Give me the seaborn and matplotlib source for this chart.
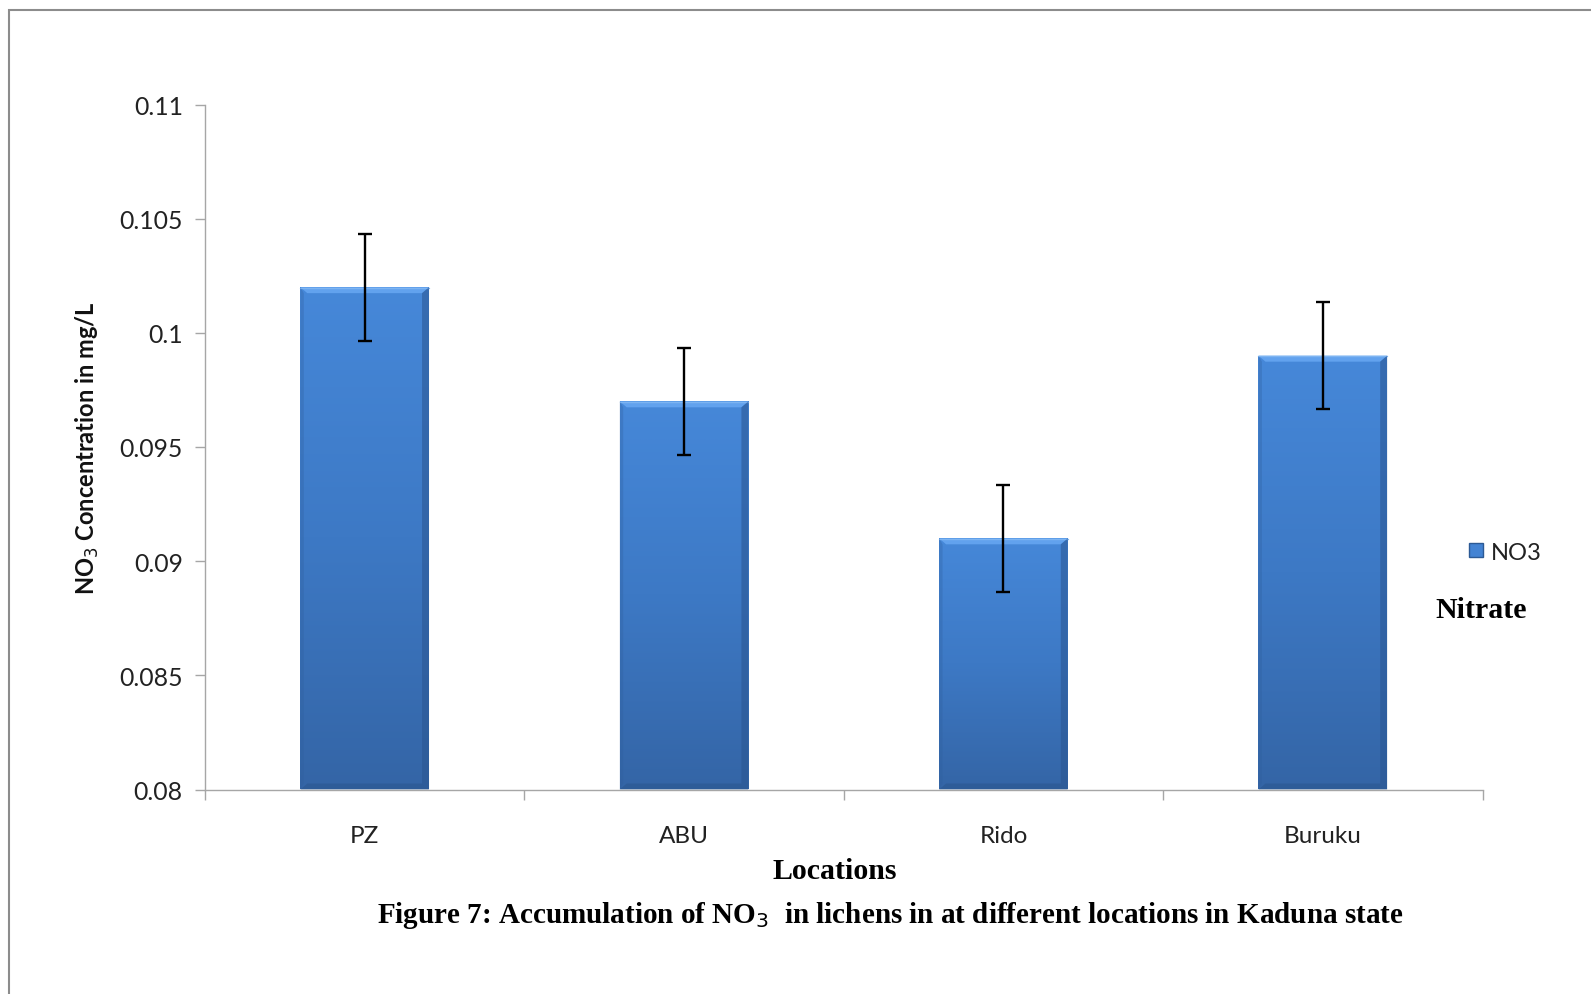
import numpy as np
import pandas as pd
import matplotlib
matplotlib.use("Agg")
import matplotlib.pyplot as plt
import seaborn as sns
from matplotlib.patches import Rectangle
from matplotlib.lines import Line2D
from matplotlib.colors import LinearSegmentedColormap

# ---- data ----
locations = ["PZ", "ABU", "Rido", "Buruku"]
no3_values = [0.102, 0.097, 0.091, 0.099]
no3_errors = [0.00235, 0.00235, 0.00235, 0.00235]
y_ticks = [0.08, 0.085, 0.09, 0.095, 0.1, 0.105, 0.11]
y_tick_labels = ["0.08", "0.085", "0.09", "0.095", "0.1", "0.105", "0.11"]
series_name = "NO3"

sns.set_theme(style="white")
plt.rcParams["font.family"] = ["Lato", "DejaVu Sans"]

W, H = 1591, 995
fig = plt.figure(figsize=(W / 100, H / 100), dpi=100)
ax = fig.add_axes([205 / W, 1 - 790.5 / H, (1482.5 - 205) / W, (790.5 - 105.5) / H])

YMIN, YMAX = 0.08, 0.11
df = pd.DataFrame({"Location": locations, "NO3": no3_values})
sns.barplot(data=df, x="Location", y="NO3", ax=ax, color="#3C78C4",
            width=0.403, errorbar=None, linewidth=0, saturation=1)
ax.set_ylim(YMIN, YMAX)
ax.set_xlim(-0.5, len(locations) - 0.5)

px_y = (YMAX - YMIN) / 685.0
px_x = len(locations) / 1277.5

# gradient fill on bars with bevel
grad = np.linspace(0, 1, 256).reshape(-1, 1)
cmap = LinearSegmentedColormap.from_list("g", ["#4688D9", "#3D79C5", "#3465A6"])
for p in ax.patches:
    x0, w = p.get_x(), p.get_width()
    top = p.get_y() + p.get_height()
    bot = YMIN
    clip = Rectangle((x0, bot), w, top - bot, transform=ax.transData)
    im = ax.imshow(grad, extent=[x0, x0 + w, bot, top], aspect="auto",
                   cmap=cmap, zorder=2, origin="upper", interpolation="bilinear")
    im.set_clip_path(clip)
    bh = 6 * px_y
    bw = 7 * px_x
    ax.fill([x0, x0 + w, x0 + w - bw, x0 + bw], [top, top, top - bh, top - bh],
            color="#62A2EE", zorder=3, lw=0)
    ax.plot([x0, x0 + w], [top - 0.5 * px_y, top - 0.5 * px_y], color="#7DB4F2", lw=1, zorder=3)
    ax.fill([x0, x0 + w, x0 + w - bw, x0 + bw], [bot, bot, bot + bh, bot + bh],
            color="#2D5A95", zorder=3, lw=0, alpha=0.8)
    ax.fill([x0 + w, x0 + w, x0 + w - bw, x0 + w - bw], [bot, top, top - bh, bot + bh],
            color="#2A5590", zorder=3, lw=0, alpha=0.55)
    ax.fill([x0, x0, x0 + bw * 0.5, x0 + bw * 0.5], [bot, top, top - bh, bot + bh],
            color="#2E5E9C", zorder=3, lw=0, alpha=0.3)
    p.set_visible(False)

ax.errorbar(x=np.arange(len(locations)), y=no3_values, yerr=no3_errors,
            fmt="none", ecolor="black", elinewidth=1.7, capsize=4.8, capthick=1.7, zorder=5)

ax.set_yticks(y_ticks)
ax.set_yticklabels(y_tick_labels)
ax.set_xticks(range(len(locations)))
ax.set_xticklabels(locations)
ax.set_xticks(np.arange(-0.5, len(locations)), minor=True)
ax.set_ylim(YMIN, YMAX)
ax.set_xlim(-0.5, len(locations) - 0.5)

for s in ["top", "right"]:
    ax.spines[s].set_visible(False)
for s in ["left", "bottom"]:
    ax.spines[s].set_color("#A6A6A6")
    ax.spines[s].set_linewidth(1.0)
    ax.spines[s].set_zorder(4)

ax.tick_params(axis="y", which="major", direction="out", length=7, width=1,
               color="#A6A6A6", left=True, labelsize=17.8, labelcolor="#222222", pad=9)
ax.tick_params(axis="x", which="major", length=0, labelsize=17.5, labelcolor="#222222", pad=25.5)
ax.tick_params(axis="x", which="minor", direction="out", length=7, width=1,
               color="#A6A6A6", bottom=True)

ax.set_xlabel("")
ax.set_ylabel(r"NO$_3$ Concentration in mg/L", fontsize=17, fontweight="bold", color="#111111")
ax.yaxis.set_label_coords((101 - 205) / (1482.5 - 205), 0.5)

# legend
handle = Line2D([], [], marker="s", linestyle="none", markersize=10,
                markerfacecolor="#4383D3", markeredgecolor="#2C5A95")
leg = fig.legend([handle], [series_name], loc="center left",
                 bbox_to_anchor=(1452 / W, 1 - 553 / H), frameon=False,
                 fontsize=17, handletextpad=0.15, borderpad=0, handlelength=1.0)
for t in leg.get_texts():
    t.set_color("#222222")

serif = ["Liberation Serif", "DejaVu Serif"]
fig.text(1481 / W, 1 - 610 / H, "Nitrate", family=serif, fontweight="bold",
         fontsize=21.5, ha="center", va="center", color="black")
fig.text(835 / W, 1 - 872 / H, "Locations", family=serif, fontweight="bold",
         fontsize=21.5, ha="center", va="center", color="black")
fig.text(890 / W, 1 - 916 / H,
         r"Figure 7: Accumulation of NO$_3$  in lichens in at different locations in Kaduna state",
         family=serif, fontweight="bold", fontsize=21, ha="center", va="center", color="black")

# outer border
fig.patches.append(Rectangle((9 / W, -0.05), 1.1, 1 - 11 / H + 0.05, transform=fig.transFigure,
                             fill=False, edgecolor="#8C8C8C", linewidth=1.5))

fig.savefig("out.png", dpi=100)
